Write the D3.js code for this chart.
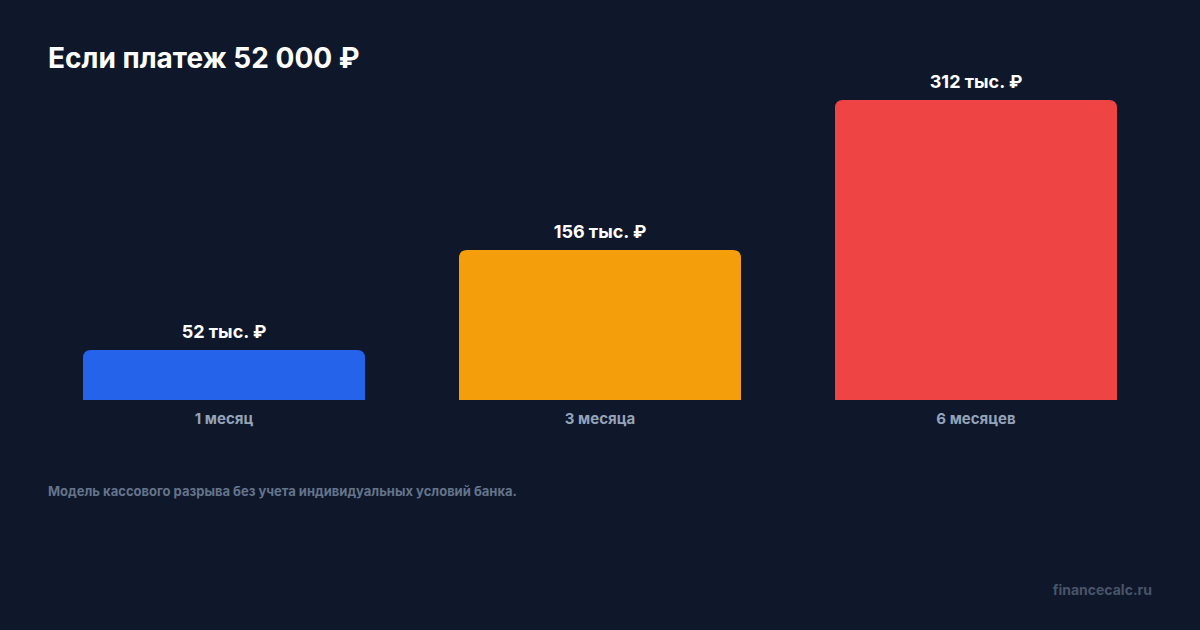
<!DOCTYPE html>
<html>
<head>
<meta charset="utf-8">
<script src="https://cdn.jsdelivr.net/npm/d3@7"></script>
<style>
  html, body { margin: 0; padding: 0; background: #0f172a; }
  svg { display: block; font-family: Inter, "Noto Sans", sans-serif; }
</style>
</head>
<body>
<div id="chart"></div>
<script>
// data
const periods = ['1 месяц', '3 месяца', '6 месяцев'];
const amounts = [52, 156, 312];   // тыс. ₽
const barColors = ['#2563eb', '#f59e0b', '#ef4444'];

const titleText = 'Если платеж 52 000 ₽';
const noteText = 'Модель кассового разрыва без учета индивидуальных условий банка.';
const siteText = 'financecalc.ru';

const width = 1200, height = 630;
const margin = {left: 48, right: 48, top: 100, bottom: 230};

let svg = d3.select('#chart').append('svg')
    .attr('width', width)
    .attr('height', height);

svg.append('rect')
    .attr('width', width)
    .attr('height', height)
    .attr('fill', '#0f172a');

let xScale = d3.scaleBand()
    .domain(periods)
    .range([margin.left, width - margin.right])
    .paddingInner(0.25)
    .paddingOuter(0.0931);

let yScale = d3.scaleLinear()
    .domain([0, 312])
    .range([height - margin.bottom, margin.top]);

const bw = xScale.bandwidth();
const r = 8;

// bar with rounded top corners only
function barPath(x, y, w, h){
    let rr = Math.min(r, h, w/2);
    return `M${x},${y+h} V${y+rr} Q${x},${y} ${x+rr},${y} H${x+w-rr} Q${x+w},${y} ${x+w},${y+rr} V${y+h} Z`;
}

svg.selectAll('path.bar')
    .data(amounts)
    .join('path')
    .attr('class', 'bar')
    .attr('d', (d, i) => barPath(xScale(periods[i]), yScale(d), bw, yScale(0) - yScale(d)))
    .attr('fill', (d, i) => barColors[i]);

// value labels
svg.selectAll('text.val')
    .data(amounts)
    .join('text')
    .attr('class', 'val')
    .attr('x', (d, i) => xScale(periods[i]) + bw/2)
    .attr('y', d => yScale(d) - 12)
    .attr('text-anchor', 'middle')
    .attr('font-size', 18)
    .attr('font-weight', 700)
    .attr('fill', '#ffffff')
    .text(d => d + ' тыс. ₽');

// category axis
let xAxis = d3.axisBottom(xScale).tickSize(0).tickPadding(13);
let gx = svg.append('g')
    .attr('transform', `translate(0,${yScale(0)})`)
    .call(xAxis);
gx.select('.domain').remove();
gx.selectAll('text')
    .attr('font-size', 15)
    .attr('font-weight', 700)
    .attr('font-family', 'Inter, sans-serif')
    .attr('fill', '#94a3b8');

// title
svg.append('text')
    .attr('x', 48)
    .attr('y', 68)
    .attr('font-size', 28)
    .attr('font-weight', 700)
    .attr('fill', '#ffffff')
    .text(titleText);

// footnote
svg.append('text')
    .attr('x', 48)
    .attr('y', 496)
    .attr('font-size', 13)
    .attr('font-weight', 700)
    .attr('fill', '#64748b')
    .text(noteText);

svg.append('text')
    .attr('x', 1152)
    .attr('y', 595)
    .attr('text-anchor', 'end')
    .attr('font-size', 14)
    .attr('font-weight', 700)
    .attr('fill', '#475569')
    .text(siteText);
</script>
</body>
</html>
